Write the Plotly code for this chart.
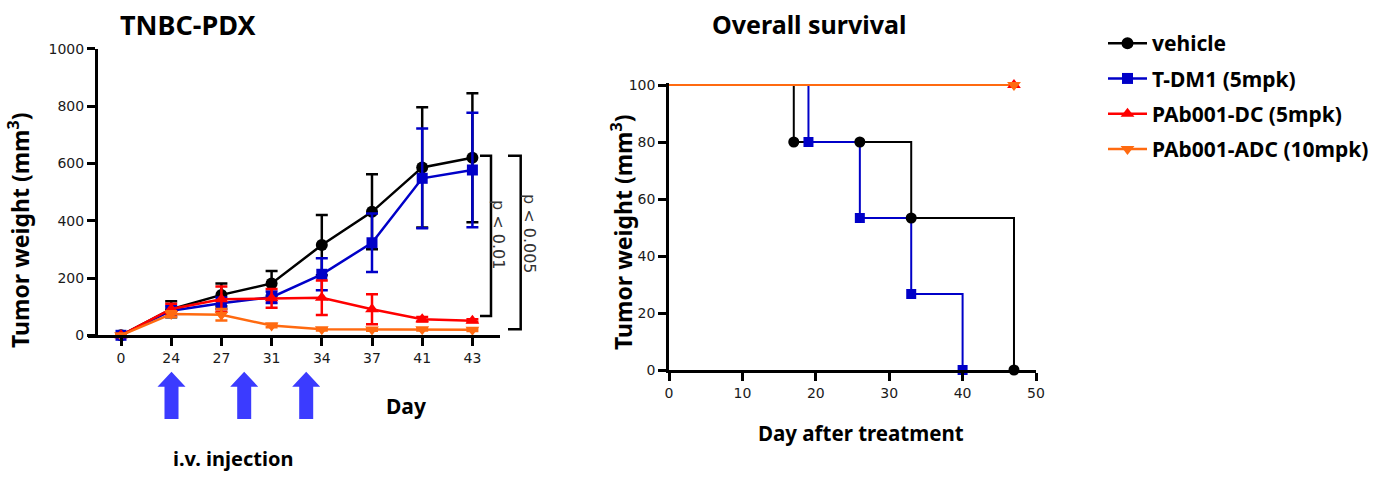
import plotly.graph_objects as go

W, H = 1395, 478

# ---------------- data ----------------
days = ["0", "24", "27", "31", "34", "37", "41", "43"]
vehicle = [0, 91, 141, 181, 315, 431, 586, 620]
vehicle_err = [0, 28, 40, 43, 105, 131, 210, 225]
tdm1 = [0, 86, 112, 133, 213, 323, 548, 577]
tdm1_err = [0, 15, 20, 20, 56, 102, 174, 200]
dc = [0, 92, 126, 129, 131, 91, 56, 51]
dc_err = [0, 18, 44, 33, 60, 52, 8, 5]
adc = [0, 74, 72, 34, 21, 20, 21, 19]
adc_err = [0, 10, 20, 6, 4, 4, 4, 4]

names = ["vehicle", "T-DM1 (5mpk)", "PAb001-DC (5mpk)", "PAb001-ADC (10mpk)"]

# survival (Kaplan-Meier steps)
km_vehicle_t = [0, 17, 26, 33, 47]
km_vehicle_s = [100, 80, 80, 53.33, 0]
km_tdm1_t = [0, 19, 26, 33, 40]
km_tdm1_s = [100, 80, 53.33, 26.67, 0]
km_dc_t = [0, 47]
km_dc_s = [100, 100]
km_adc_t = [0, 47]
km_adc_s = [100, 100]

left_yticks = [0, 200, 400, 600, 800, 1000]
right_xticks = [0, 10, 20, 30, 40, 50]
right_yticks = [0, 20, 40, 60, 80, 100]

bracket_y = [627, 67, 21]  # top, inner bottom, outer bottom (data units)

# ---------------- styles ----------------
colors = ["#000000", "#0000c8", "#ff0000", "#ff6a10"]
symbols = ["circle", "square", "triangle-up", "triangle-down"]
BOLD = "Noto Sans"
TICKFONT = dict(family="DejaVu Sans", size=14, color="#1a1a1a")


def px(x):
    return x / W


def py(y):
    return 1 - y / H


# left plot geometry (pixels)
L_X0, L_X1 = 88, 500
L_YAX = 96
L_TOP, L_BOT = 48.8, 335.3
# right plot geometry
R_X0, R_X1 = 669, 1036
R_TOP, R_BOT = 85, 370
R_YMAX = 100.8  # small headroom so the 100 % line is not clipped
R_TOP_EXT = R_BOT - (R_BOT - R_TOP) * R_YMAX / 100.0


def ly(v):
    return L_BOT - v * (L_BOT - L_TOP) / 1000.0


fig = go.Figure()

series = [(vehicle, vehicle_err), (tdm1, tdm1_err), (dc, dc_err), (adc, adc_err)]
for i, (vals, err) in enumerate(series):
    fig.add_trace(go.Scatter(
        x=days, y=vals, mode="lines+markers", name=names[i],
        legendgroup=names[i],
        line=dict(color=colors[i], width=2.5),
        marker=dict(symbol=symbols[i], size=12 if i != 1 else 11, color=colors[i],
                    line=dict(width=0)),
        error_y=dict(type="data", array=err, visible=True, color=colors[i],
                     thickness=2.5, width=6),
        cliponaxis=False, xaxis="x", yaxis="y",
    ))

km = [(km_vehicle_t, km_vehicle_s), (km_tdm1_t, km_tdm1_s),
      (km_dc_t, km_dc_s), (km_adc_t, km_adc_s)]
for i, (t, s) in enumerate(km):
    fig.add_trace(go.Scatter(
        x=t, y=s, mode="lines", line_shape="hv", showlegend=False,
        line=dict(color=colors[i], width=2),
        cliponaxis=False, xaxis="x2", yaxis="y2", hoverinfo="skip",
    ))
for i, (t, s) in enumerate(km):
    fig.add_trace(go.Scatter(
        x=t[1:], y=s[1:], mode="markers", showlegend=False,
        marker=dict(symbol=symbols[i], size=[11, 10, 12, 12][i], color=colors[i],
                    line=dict(width=0), opacity=1),
        cliponaxis=False, xaxis="x2", yaxis="y2",
    ))

cat_left = (L_X0 - 121) / 50.2
cat_right = (L_X1 - 121) / 50.2

axis_common = dict(showline=True, linecolor="black", ticks="outside", tickcolor="black",
                   ticklen=8, showgrid=False, zeroline=False, tickfont=TICKFONT,
                   fixedrange=True, automargin=False)

fig.update_layout(
    width=W, height=H, autosize=False,
    margin=dict(l=0, r=0, t=0, b=0, pad=0, autoexpand=False),
    paper_bgcolor="white", plot_bgcolor="white",
    xaxis=dict(domain=[px(L_X0), px(L_X1)], type="category", range=[cat_left, cat_right],
               anchor="y", linewidth=3, tickwidth=3, **axis_common),
    yaxis=dict(domain=[py(L_BOT), py(L_TOP)], range=[0, 1000], anchor="free",
               position=px(L_YAX), tickvals=left_yticks, linewidth=3, tickwidth=3,
               **axis_common),
    xaxis2=dict(domain=[px(R_X0), px(R_X1)], range=[0, 50], anchor="y2",
                tickvals=right_xticks, linewidth=2.5, tickwidth=2.5, **axis_common),
    yaxis2=dict(domain=[py(R_BOT), py(R_TOP_EXT)], range=[0, R_YMAX], anchor="x2",
                tickvals=right_yticks, linewidth=2.5, tickwidth=2.5, **axis_common),
    legend=dict(x=px(1103), y=py(23), xanchor="left", yanchor="top", itemwidth=39,
                font=dict(family=BOLD, size=21, color="black", weight="bold"),
                traceorder="grouped", tracegroupgap=5, bgcolor="rgba(0,0,0,0)"),
    showlegend=True,
)

ann = []


def text(x, y, s, size, angle=0, family=BOLD, weight="bold", color="black"):
    ann.append(dict(x=px(x), y=py(y), xref="paper", yref="paper", text=s, showarrow=False,
                    xanchor="center", yanchor="middle", textangle=angle,
                    font=dict(family=family, size=size, color=color, weight=weight)))


text(187.5, 24, "TNBC-PDX", 27)
text(809, 24, "Overall survival", 25)
text(19, 230, "Tumor weight (mm<sup>3</sup>)", 23, angle=-90)
text(622, 232, "Tumor weight (mm<sup>3</sup>)", 23, angle=-90)
text(406, 406, "Day", 21)
text(233, 458, "i.v. injection", 20)
text(861.5, 433, "Day after treatment", 20.5)
text(499, 234, "p < 0.01", 16, angle=90, family="DejaVu Sans", weight="normal", color="#333")
text(530, 234, "p < 0.005", 16, angle=90, family="DejaVu Sans", weight="normal", color="#333")
fig.update_layout(annotations=ann)

shapes = []


def path(points, close=False):
    s = "M " + " L ".join(f"{px(a):.5f},{py(b):.5f}" for a, b in points)
    return s + (" Z" if close else "")


# significance brackets
top = ly(bracket_y[0])
shapes.append(dict(type="path", xref="paper", yref="paper",
                   path=path([(480, top), (491, top), (491, ly(bracket_y[1])), (480, ly(bracket_y[1]))]),
                   line=dict(color="black", width=2.5)))
shapes.append(dict(type="path", xref="paper", yref="paper",
                   path=path([(508, top), (520.7, top), (520.7, ly(bracket_y[2])), (508, ly(bracket_y[2]))]),
                   line=dict(color="black", width=2.5)))

# injection arrows
for cx in [171.5, 244.2, 306.2]:
    pts = [(cx, 371.7), (cx + 14, 386.7), (cx + 7, 386.7), (cx + 7, 419),
           (cx - 7, 419), (cx - 7, 386.7), (cx - 14, 386.7)]
    shapes.append(dict(type="path", xref="paper", yref="paper", path=path(pts, True),
                       fillcolor="#3b3bff", line=dict(width=0)))

fig.update_layout(shapes=shapes)

post = ("document.documentElement.style.margin='0';document.body.style.margin='0';"
        "document.body.style.overflow='hidden';"
        "var gd=document.getElementById('{plot_id}');gd.style.position='absolute';"
        "gd.style.left='0px';gd.style.top='0px';")
fig.write_html("out.html", post_script=post, config={"displayModeBar": False})
